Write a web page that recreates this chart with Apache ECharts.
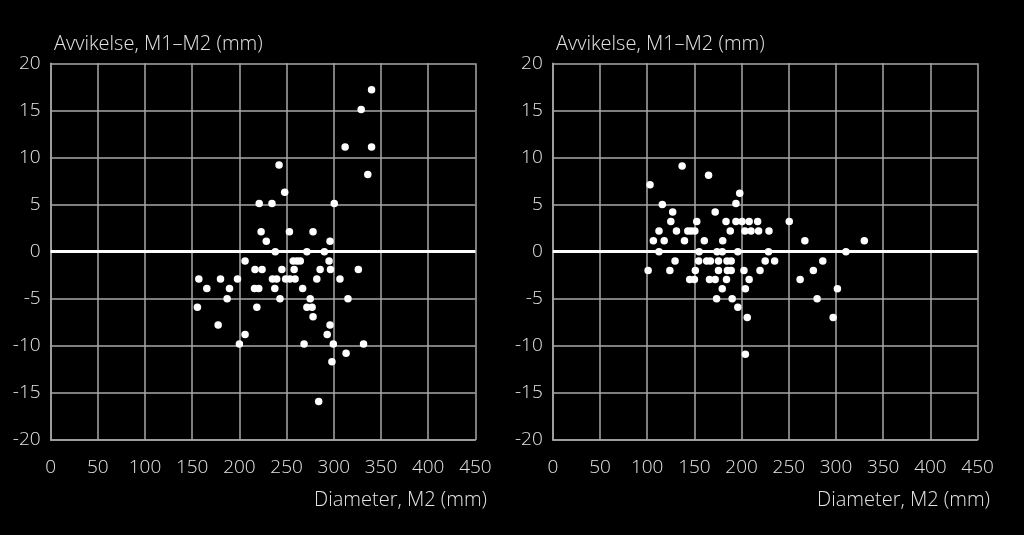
<!DOCTYPE html>
<html>
<head>
<meta charset="utf-8">
<script src="https://cdn.jsdelivr.net/npm/echarts@6/dist/echarts.min.js"></script>
<style>
html,body{margin:0;padding:0;background:#000;}
#chart{width:1024px;height:535px;}
</style>
</head>
<body>
<div id="chart"></div>
<script>
// ---- Data ----
var yAxisTitle = 'Avvikelse, M1–M2 (mm)';
var xAxisTitle = 'Diameter, M2 (mm)';
var xTicks = [0, 50, 100, 150, 200, 250, 300, 350, 400, 450];
var yTicks = [-20, -15, -10, -5, 0, 5, 10, 15, 20];

var leftDiameter = [340, 329, 312, 340, 336, 242, 248, 221, 234.5, 300.5,
  223, 253, 278, 228.5, 296, 238, 271.5, 290,
  206, 257, 261, 264.5, 295,
  216.5, 224, 245, 258, 285.5, 296.5, 326,
  157, 180, 198, 235, 239.5, 249, 253.5, 259, 282, 306.5,
  165.5, 189.5, 216, 220.5, 237.5, 267,
  187, 243, 275, 315,
  155.5, 218.5, 271.5, 277,
  278, 177.5, 296, 206, 293,
  200, 268.5, 299.5, 331.5,
  313, 298, 284];
var leftDeviation = [17.2, 15.1, 11.1, 11.1, 8.2, 9.2, 6.3, 5.1, 5.1, 5.1,
  2.1, 2.1, 2.1, 1.1, 1.1, 0, 0, 0,
  -1, -1, -1, -1, -1,
  -1.9, -1.9, -1.9, -1.9, -1.9, -1.9, -1.9,
  -2.9, -2.9, -2.9, -2.9, -2.9, -2.9, -2.9, -2.9, -2.9, -2.9,
  -3.9, -3.9, -3.9, -3.9, -3.9, -3.9,
  -5, -5, -5, -5,
  -5.9, -5.9, -5.9, -5.9,
  -6.9, -7.8, -7.8, -8.8, -8.8,
  -9.8, -9.8, -9.8, -9.8,
  -10.8, -11.7, -15.9];

var rightDiameter = [137, 165, 103, 198, 194, 116, 127, 172,
  125, 152.5, 183.5, 194, 200.5, 208, 217, 250.5,
  112.5, 131, 143, 146.5, 150.5, 188, 203.5, 210, 218, 229,
  106.5, 118, 139.5, 160.5, 180, 267, 330,
  112.5, 155, 174, 179.5, 196, 228.5, 310.5,
  129.5, 154.5, 163, 167, 175.5, 184.5, 189, 225, 235, 286,
  101, 124, 151, 175.5, 185, 189, 202.5, 219.5, 276,
  145, 150, 166, 172, 184, 208, 262,
  179.5, 204, 301.5,
  173.5, 190, 280,
  196, 206, 297, 204];
var rightDeviation = [9.1, 8.1, 7.1, 6.2, 5.1, 5.0, 4.2, 4.2,
  3.2, 3.2, 3.2, 3.2, 3.2, 3.2, 3.2, 3.2,
  2.2, 2.2, 2.2, 2.2, 2.2, 2.2, 2.2, 2.2, 2.2, 2.2,
  1.15, 1.15, 1.15, 1.15, 1.15, 1.15, 1.15,
  0, 0, 0, 0, 0, 0, 0,
  -1, -1, -1, -1, -1, -1, -1, -1, -1, -1,
  -2, -2, -2, -2, -2, -2, -2, -2, -2,
  -2.95, -2.95, -2.95, -2.95, -2.95, -2.95, -2.95,
  -3.95, -3.95, -3.95,
  -5, -5, -5,
  -5.9, -7, -7, -10.9];

function pairs(xs, ys) { return xs.map(function (x, i) { return [x, ys[i]]; }); }

var FONT = '"Open Sans", "Noto Sans", sans-serif';
var textCol = '#e4e4e4';
var gridCol = '#a8a8a8';

function xAxisDef(gi) {
  return {
    type: 'value', gridIndex: gi,
    min: xTicks[0], max: xTicks[xTicks.length - 1], interval: xTicks[1] - xTicks[0],
    axisLine: { show: true, onZero: false, lineStyle: { color: gridCol, width: 1.5 } },
    axisTick: { show: false },
    axisLabel: { color: textCol, fontFamily: FONT, fontSize: 19, fontWeight: 300, margin: 18 },
    splitLine: { show: true, lineStyle: { color: gridCol, width: 1.5 } }
  };
}
function yAxisDef(gi) {
  return {
    type: 'value', gridIndex: gi,
    min: yTicks[0], max: yTicks[yTicks.length - 1], interval: yTicks[1] - yTicks[0],
    axisLine: { show: true, onZero: false, lineStyle: { color: gridCol, width: 1.5 } },
    axisTick: { show: false },
    axisLabel: { color: textCol, fontFamily: FONT, fontSize: 19, fontWeight: 300, margin: 10 },
    splitLine: { show: true, lineStyle: { color: gridCol, width: 1.5 } }
  };
}
function scatter(gi, data) {
  return {
    type: 'scatter', xAxisIndex: gi, yAxisIndex: gi,
    data: data, symbolSize: 7.5,
    itemStyle: { color: '#ffffff', opacity: 1 },
    z: 5,
    markLine: {
      silent: true, symbol: ['none', 'none'], label: { show: false },
      lineStyle: { color: '#ffffff', width: 3, type: 'solid' },
      data: [{ yAxis: 0 }]
    }
  };
}

var chart = echarts.init(document.getElementById('chart'), null, { renderer: 'canvas' });
var tFont = '300 20px ' + FONT;
chart.setOption({
  backgroundColor: '#000000',
  animation: false,
  grid: [
    { left: 50.6, top: 63.3, width: 424.8, height: 376.7 },
    { left: 552.8, top: 63.3, width: 424.8, height: 376.7 }
  ],
  xAxis: [xAxisDef(0), xAxisDef(1)],
  yAxis: [yAxisDef(0), yAxisDef(1)],
  series: [scatter(0, pairs(leftDiameter, leftDeviation)), scatter(1, pairs(rightDiameter, rightDeviation))],
  graphic: [
    { type: 'text', left: 54, top: 34, style: { text: yAxisTitle, fill: textCol, font: tFont } },
    { type: 'text', left: 556, top: 34, style: { text: yAxisTitle, fill: textCol, font: tFont } },
    { type: 'text', right: 1024 - 487, top: 490, style: { text: xAxisTitle, fill: textCol, font: tFont } },
    { type: 'text', right: 1024 - 990, top: 490, style: { text: xAxisTitle, fill: textCol, font: tFont } }
  ]
});
</script>
</body>
</html>
